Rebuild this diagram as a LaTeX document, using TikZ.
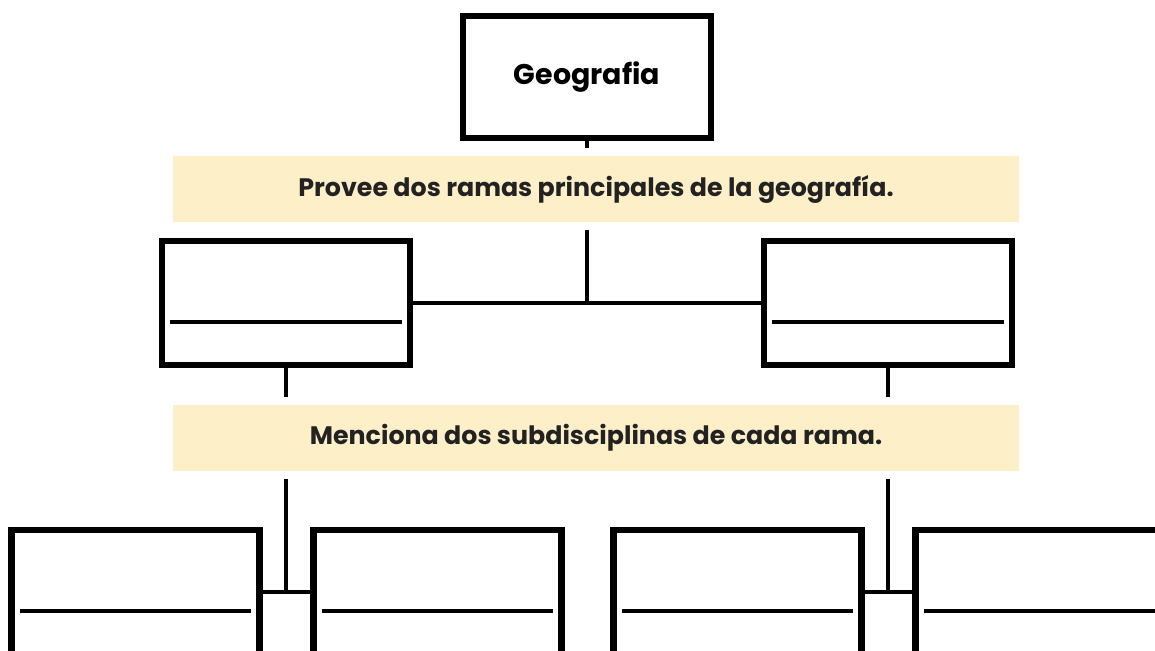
\documentclass[tikz,border=0pt]{standalone}
\usepackage{fontspec}
\setmainfont{Poppins}
\usepackage{tikz}
\definecolor{bandfill}{HTML}{FDEFC8}
\definecolor{bandtext}{HTML}{222222}
\tikzstyle{topbox} = [rectangle, draw=black, line width=3.5pt, fill=white, minimum width=4.96cm, minimum height=2.44cm, font=\fontsize{16.2}{19}\selectfont\bfseries]
\tikzstyle{blank} = [rectangle, draw=black, line width=3.5pt, fill=white, minimum width=4.96cm, minimum height=2.48cm, path picture={\draw[line width=2pt] ([shift={(-2.32cm,-0.38cm)}]path picture bounding box.center) -- ++(4.64cm,0);}]
\tikzstyle{band} = [rectangle, draw=white, line width=0.16cm, fill=bandfill, minimum width=17.08cm, minimum height=1.48cm, text=bandtext, font=\fontsize{14.4}{17}\selectfont\bfseries]
\tikzstyle{link} = [line width=1.8pt]

\begin{document}
\begin{tikzpicture}[x=0.02cm, y=-0.02cm]
\useasboundingbox (0,0) rectangle (1155,651);
\clip (0,0) rectangle (1155,651);

%Geografia
\node[topbox] (geo) at (587,77) {Geografia};

%ramas
\node[blank] (ramaA) at (286,303) {};
\node[blank] (ramaB) at (888,303) {};

%subdisciplinas
\node[blank] (subA) at (135.5,592) {};
\node[blank] (subB) at (437.5,592) {};
\node[blank] (subC) at (737.5,592) {};
\node[blank] (subD) at (1039.5,592) {};

%lineas
\draw[link] (geo.south) -- (geo.south |- ramaA.east);
\draw[link] (ramaA.east) -- (ramaB.west);
\draw[link] (ramaA.south) -- (ramaA.south |- subA.east);
\draw[link] (subA.east) -- (subB.west);
\draw[link] (ramaB.south) -- (ramaB.south |- subC.east);
\draw[link] (subC.east) -- (subD.west);

%preguntas
\node[band] (provee) at (596,189) {Provee dos ramas principales de la geografía.};
\node[band] (menciona) at (596,438) {Menciona dos subdisciplinas de cada rama.};

\end{tikzpicture}
\end{document}
